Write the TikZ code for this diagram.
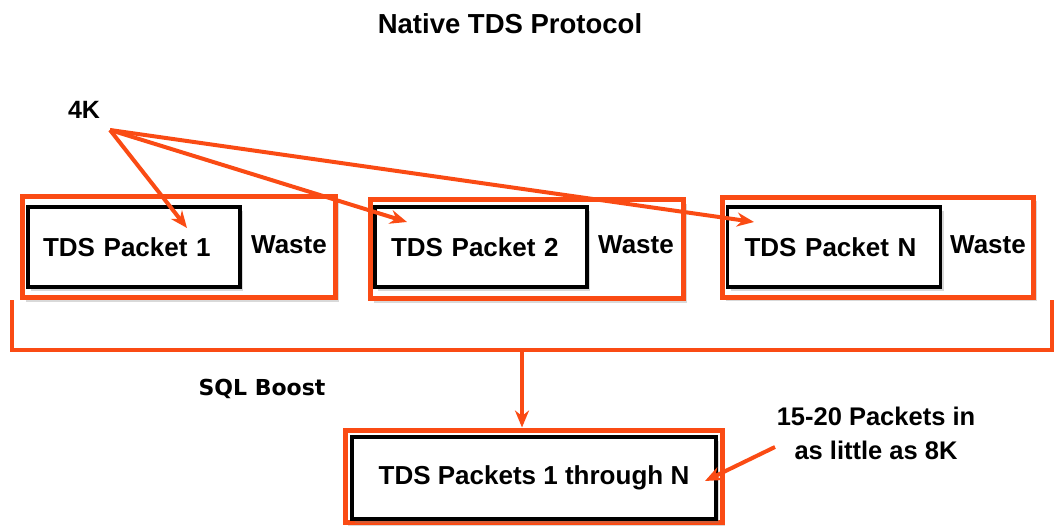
\documentclass[tikz,border=0pt]{standalone}
\usepackage{fontspec}
\setmainfont{Liberation Sans}
\newfontfamily\dvsans{DejaVu Sans}
\usetikzlibrary{arrows.meta,shadows}
\definecolor{org}{RGB}{250,75,20}
\tikzset{
  shad/.style={drop shadow={shadow xshift=3pt,shadow yshift=-4pt,opacity=0.3,fill=gray}},
  obox/.style={draw=org,line width=5pt,fill=white,shad,inner sep=0pt},
  kbox/.style={draw=black,line width=3.2pt,fill=white,shad,inner ysep=0pt,inner xsep=15pt,align=left,font=\bfseries\fontsize{26}{30}\selectfont},
  lbl/.style={font=\bfseries\fontsize{26}{30}\selectfont,inner sep=0pt},
  oarr/.style={draw=org,line width=4pt,-{Stealth[length=17pt,width=14pt]}},
  oline/.style={draw=org,line width=4pt},
}
\begin{document}
\begin{tikzpicture}[x=1pt,y=-1pt]
\useasboundingbox (0,0) rectangle (1055,525);
\node[lbl,font=\bfseries\fontsize{27.5}{30}\selectfont] (title) at (510,24) {Native TDS Protocol};
\node[lbl,font=\bfseries\fontsize{25}{28}\selectfont] (k4) at (84,110) {4K};
% packet boxes
\node[obox,minimum width=313pt,minimum height=101pt] (o1) at (179,247) {};
\node[kbox,text width=182pt,minimum height=80pt] (p1) at (134,247) {TDS Packet 1};
\node[lbl] (w1) at (289,245) {Waste};
\node[obox,minimum width=313pt,minimum height=99pt] (o2) at (527,249) {};
\node[kbox,text width=180pt,inner xsep=16pt,minimum height=80pt] (p2) at (481,247) {TDS Packet 2};
\node[lbl] (w2) at (636,245) {Waste};
\node[obox,minimum width=311pt,minimum height=100pt] (o3) at (878,247) {};
\node[kbox,text width=179pt,inner xsep=17pt,minimum height=80pt] (p3) at (834,247) {TDS Packet N};
\node[lbl] (w3) at (988,245) {Waste};
% arrows from 4K
\coordinate (src) at (110,130);
\coordinate (t1) at (187,228);
\coordinate (t2) at (407,222);
\coordinate (t3) at (754,222);
\draw[oarr] (src) -- (t1);
\draw[oarr] (src) -- (t2);
\draw[oarr] (src) -- (t3);
% bracket
\coordinate (bl) at (12,300);
\coordinate (br) at (1052,300);
\coordinate (bm) at (522,350);
\draw[oline] (bl) |- (br |- bm) -- (br);
\node[inner sep=0pt,font=\dvsans\bfseries\fontsize{22}{26}\selectfont] (sql) at (262,389) {SQL Boost};
% result box
\node[obox,minimum width=377pt,minimum height=92pt] (ob) at (533.5,476) {};
\node[kbox,minimum width=364pt,minimum height=82pt,align=center,inner xsep=0pt] (pb) at (534,478) {TDS Packets 1 through N};
\draw[oarr] (bm) -- (bm |- ob.north);
\node[lbl,align=center,font=\bfseries\fontsize{25.5}{34}\selectfont] (note) at (876,433) {15-20 Packets in\\as little as 8K};
\coordinate (ns) at (775,447);
\coordinate (ne) at (705,481);
\draw[oarr] (ns) -- (ne);
\end{tikzpicture}
\end{document}
